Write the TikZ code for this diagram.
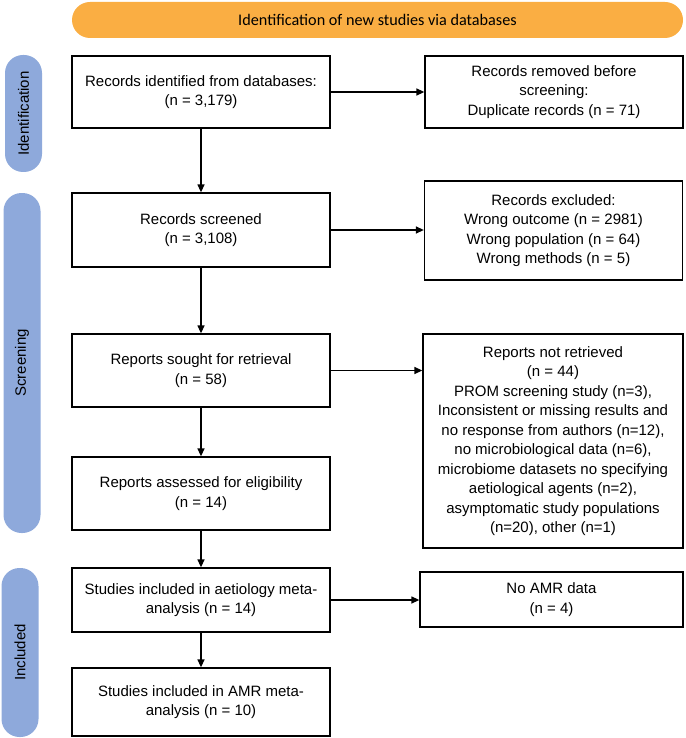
\documentclass[tikz,border=0pt]{standalone}
\usepackage{fontspec}
\setmainfont{Liberation Sans}
\newfontfamily\hdrfont{Carlito}
\usetikzlibrary{arrows.meta}
\definecolor{hdrorange}{RGB}{250,174,67}
\definecolor{sideblue}{RGB}{142,169,219}

\begin{document}
\begin{tikzpicture}[x=1pt,y=-1pt,-{Triangle[length=8pt,width=7pt]},line width=1.3pt]
	\tikzstyle{every node}=[font=\fontsize{15}{19.5}\selectfont,align=center,inner sep=0pt];
	\tikzstyle{box}=[draw,line width=1.3pt,minimum width=258pt];
	\tikzstyle{phase}=[fill=sideblue,rounded corners=18pt,minimum height=37pt,rotate=90];
	\tikzstyle{header}=[fill=hdrorange,rounded corners=18pt,minimum width=611pt,minimum height=36pt,font=\hdrfont\fontsize{16.2}{19}\selectfont];

	\useasboundingbox (0,0) rectangle (685,738);

	\node at (377.5, 20) (head) [header] {Identification of new studies via databases};

	\node at (23.5, 113.5) (ident) [phase,minimum width=117pt] {Identification};
	\node at (22, 363)     (screen) [phase,minimum width=340pt] {Screening};
	\node at (20, 652.5)   (incl) [phase,minimum width=169pt] {Included};

	\node at (201, 92)    (found) [box,minimum height=72pt] {Records identified from databases:\\(n = 3,179)};
	\node at (554, 92)    (dupl) [box,minimum height=72pt] {Records removed before\\screening:\\Duplicate records (n = 71)};
	\node at (201, 230)   (screened) [box,minimum height=74pt] {Records screened\\(n = 3,108)};
	\node at (553.5, 230.5) (excl) [box,minimum height=99pt] {Records excluded:\\Wrong outcome (n = 2981)\\Wrong population (n = 64)\\Wrong methods (n = 5)};
	\node at (201, 370.5) (sought) [box,minimum height=73pt] {Reports sought for retrieval\\(n = 58)};
	\node at (553, 441)   (notret) [box,minimum width=260pt,minimum height=214pt] {Reports not retrieved\\(n = 44)\\PROM screening study (n=3),\\Inconsistent or missing results and\\no response from authors (n=12),\\no microbiological data (n=6),\\microbiome datasets no specifying\\aetiological agents (n=2),\\asymptomatic study populations\\(n=20), other (n=1)};
	\node at (201, 493.5) (assess) [box,minimum height=73pt] {Reports assessed for eligibility\\(n = 14)};
	\node at (201, 600)   (aetio) [box,minimum height=64pt] {Studies included in aetiology meta-\\analysis (n = 14)};
	\node at (551.5, 599.5) (noamr) [box,minimum width=263pt,minimum height=55pt] {No AMR data\\(n = 4)};
	\node at (201, 702)   (amr) [box,minimum height=68pt] {Studies included in AMR meta-\\analysis (n = 10)};

	\draw (found) -- (found -| dupl.west);
	\draw (found) -- (screened);
	\draw (screened) -- (screened -| excl.west);
	\draw (screened) -- (sought);
	\draw (sought) -- (sought -| notret.west);
	\draw (sought) -- (assess);
	\draw (assess) -- (aetio);
	\draw (aetio) -- (aetio -| noamr.west);
	\draw (aetio) -- (amr);
\end{tikzpicture}
\end{document}
